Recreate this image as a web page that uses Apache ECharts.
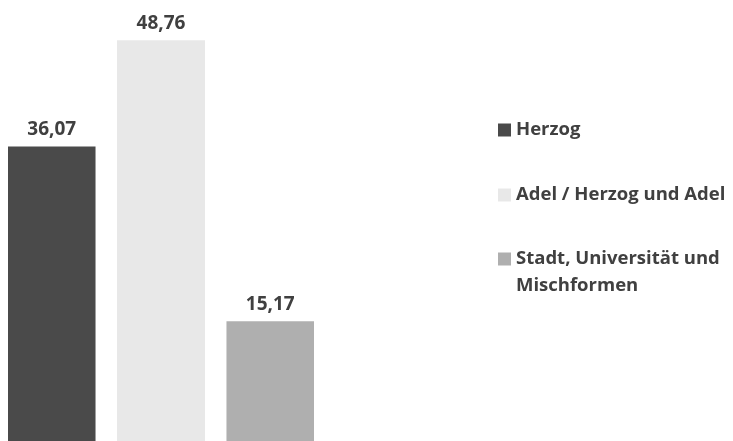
<!DOCTYPE html>
<html>
<head>
<meta charset="utf-8">
<script src="https://cdn.jsdelivr.net/npm/echarts@6/dist/echarts.min.js"></script>
<style>html,body{margin:0;padding:0;background:#fff;overflow:hidden}#c{width:733px;height:448px}</style>
</head>
<body>
<div id="c"></div>
<script>
var seriesNames = ['Herzog', 'Adel / Herzog und Adel', 'Stadt, Universität und\nMischformen'];
var seriesValues = [36.07, 48.76, 15.17];
var seriesColors = ['#4a4a4a', '#e8e8e8', '#afafaf'];
var categories = [''];

var chart = echarts.init(document.getElementById('c'));
var FONT = '"Open Sans", "DejaVu Sans", sans-serif';
var series = seriesNames.map(function (n, i) {
  return {
    name: n,
    type: 'bar',
    barWidth: 88,
    barGap: '24.4%',
    itemStyle: { color: seriesColors[i] },
    label: {
      show: true, position: 'top', distance: 7,
      fontFamily: FONT, fontWeight: 'bold', fontSize: 19, color: '#404040',
      formatter: function (p) { return p.value.toFixed(2).replace('.', ','); }
    },
    data: [seriesValues[i]]
  };
});
var legendTops = [116.5, 181.5, 218.5];
var legends = seriesNames.map(function (n, i) {
  return {
    orient: 'vertical', left: 498, top: legendTops[i], padding: 0,
    itemWidth: 13, itemHeight: 13, itemGap: 0, selectedMode: false,
    icon: 'rect',
    data: [n],
    formatter: function (name) { return name.indexOf('\n') >= 0 ? '\n' + name : name; },
    textStyle: {
      fontFamily: FONT, fontWeight: 'bold', fontSize: 18.5, color: '#404040',
      lineHeight: 27
    }
  };
});
chart.setOption({
  animation: false,
  grid: { left: 8, right: 419, top: 30, bottom: 0 },
  xAxis: { type: 'category', data: categories, show: false },
  yAxis: { type: 'value', min: 0, max: 50, show: false },
  legend: legends,
  series: series
});
</script>
</body>
</html>
